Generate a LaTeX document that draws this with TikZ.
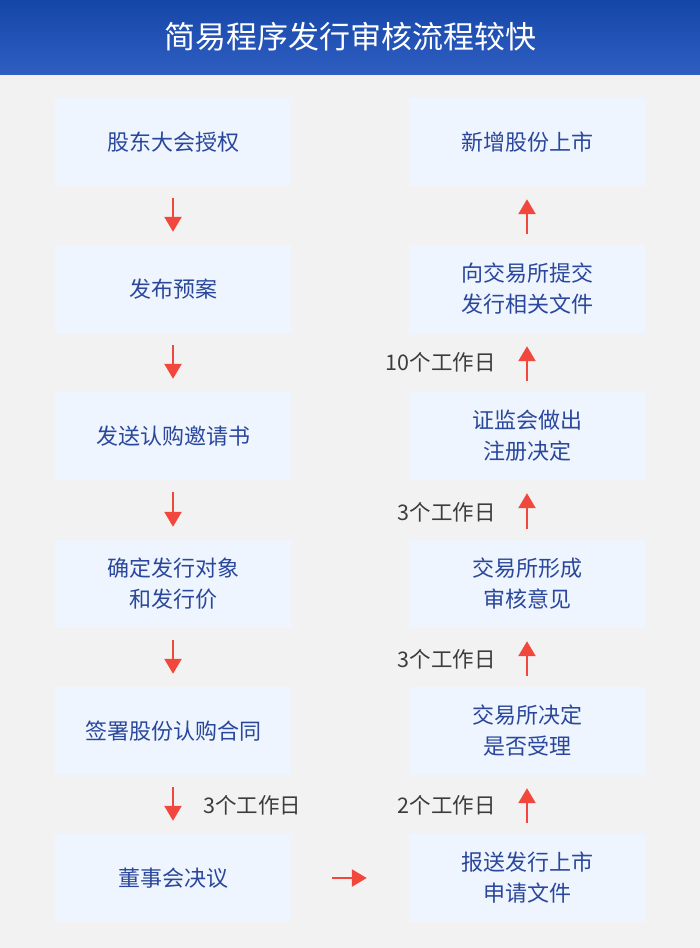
\documentclass[tikz,border=0pt]{standalone}
\usepackage{fontspec}
\setmainfont{Noto Sans CJK SC}
\usetikzlibrary{arrows.meta}

\definecolor{bgGray}{HTML}{F2F2F2}
\definecolor{boxBlue}{HTML}{EEF5FE}
\definecolor{textBlue}{HTML}{2A479C}
\definecolor{titleTop}{HTML}{1446A8}
\definecolor{titleBot}{HTML}{2F5EC1}
\definecolor{arrowRed}{HTML}{F2473D}
\definecolor{labelGray}{HTML}{3C3C3C}

\tikzset{
  stepbox/.style={fill=boxBlue, minimum width=236pt, minimum height=88pt,
    inner sep=0pt, align=center, text=textBlue,
    font=\fontsize{22}{31}\selectfont},
  redarrow/.style={draw=arrowRed, line width=2.4pt,
    -{Triangle[width=17pt,length=15pt]}},
  daylabel/.style={text=labelGray, inner sep=0pt,
    font=\fontsize{21.5}{24}\selectfont}
}

\begin{document}
\begin{tikzpicture}[x=1pt, y=-1pt]
  \useasboundingbox (0,0) rectangle (700,948);
  \fill[bgGray] (0,0) rectangle (700,948);

  % 标题栏
  \shade[top color=titleTop, bottom color=titleBot] (0,0) rectangle (700,74);
  \node[text=white, font=\fontsize{31}{36}\selectfont] (title) at (350,37) {简易程序发行审核流程较快};

  % 左列
  \node[stepbox] (l1) at (173,142) {股东大会授权};
  \node[stepbox] (l2) at (173,289) {发布预案};
  \node[stepbox] (l3) at (173,436) {发送认购邀请书};
  \node[stepbox] (l4) at (173,584) {确定发行对象\\和发行价};
  \node[stepbox] (l5) at (173,731) {签署股份认购合同};
  \node[stepbox] (l6) at (173,878) {董事会决议};

  % 右列
  \node[stepbox] (r1) at (527,142) {新增股份上市};
  \node[stepbox] (r2) at (527,289) {向交易所提交\\发行相关文件};
  \node[stepbox] (r3) at (527,436) {证监会做出\\注册决定};
  \node[stepbox] (r4) at (527,584) {交易所形成\\审核意见};
  \node[stepbox] (r5) at (527,731) {交易所决定\\是否受理};
  \node[stepbox] (r6) at (527,878) {报送发行上市\\申请文件};

  % 左列向下箭头
  \foreach \a/\b in {l1/l2, l2/l3, l3/l4, l4/l5, l5/l6}
    \draw[redarrow] ([yshift=-12pt]\a.south) -- ([yshift=13pt]\b.north);

  % 右列向上箭头
  \foreach \a/\b in {r6/r5, r5/r4, r4/r3, r3/r2, r2/r1}
    \draw[redarrow] ([yshift=11pt]\a.north) -- ([yshift=-13pt]\b.south);

  % 底部横向箭头
  \draw[redarrow] ([xshift=41pt]l6.east) -- ([xshift=-42pt]r6.west);

  % 工作日标注
  \node[daylabel, anchor=west] (d1) at (203,805) {3个工作日};
  \node[daylabel, anchor=east] (d2) at (496,805) {2个工作日};
  \node[daylabel, anchor=east] (d3) at (496,659) {3个工作日};
  \node[daylabel, anchor=east] (d4) at (496,512) {3个工作日};
  \node[daylabel, anchor=east] (d5) at (496,362) {10个工作日};
\end{tikzpicture}
\end{document}
